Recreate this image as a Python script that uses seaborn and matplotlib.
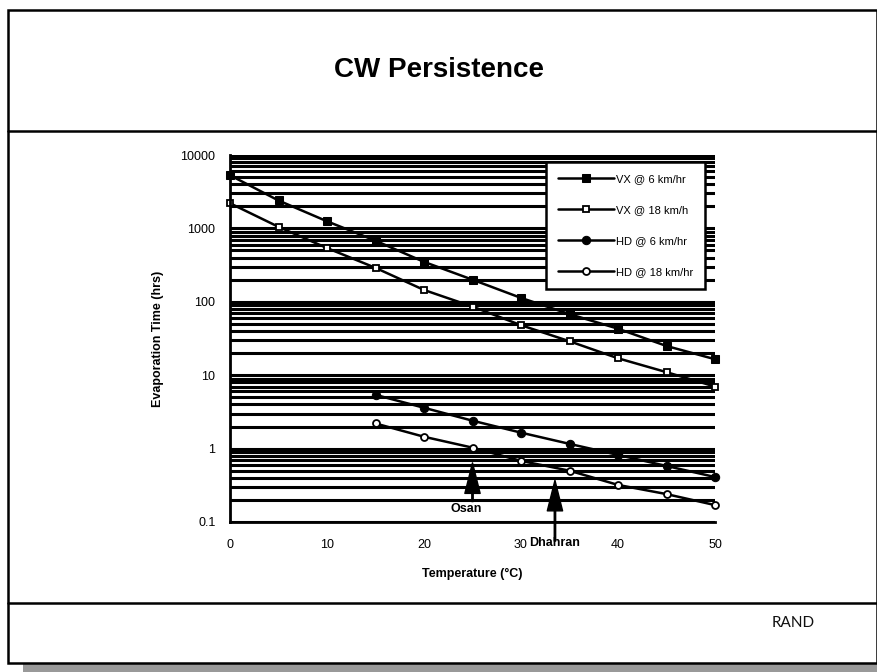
import matplotlib
matplotlib.use("Agg")
import matplotlib.pyplot as plt
import matplotlib.ticker as mticker
from matplotlib.patches import Rectangle
from matplotlib.lines import Line2D
import seaborn as sns

# ------------------------------------------------------------------
# Data
# ------------------------------------------------------------------
temp_vx = [0, 5, 10, 15, 20, 25, 30, 35, 40, 45, 50]
vx_6 = [5300, 2400, 1250, 680, 350, 200, 113, 68, 43, 25, 16.5]
vx_18 = [2200, 1050, 540, 290, 145, 86, 48, 29, 17, 11, 7]

temp_hd = [15, 20, 25, 30, 35, 40, 45, 50]
hd_6 = [5.4, 3.6, 2.4, 1.65, 1.16, 0.82, 0.58, 0.41]
hd_18 = [2.2, 1.45, 1.03, 0.68, 0.50, 0.32, 0.24, 0.17]

series_labels = ["VX @ 6 km/hr", "VX @ 18 km/h", "HD @ 6 km/hr", "HD @ 18 km/hr"]
sites = ["Osan", "Dhahran"]
site_temp = [25, 33.5]
site_tip = [0.64, 0.37]
site_tail = [0.19, 0.055]

sns.set_style("white")
plt.rcParams["font.family"] = ["Liberation Sans", "DejaVu Sans"]
plt.rcParams["text.color"] = "black"
plt.rcParams["axes.labelcolor"] = "black"

W, H = 878, 672
fig = plt.figure(figsize=(W / 100, H / 100), dpi=100)


def fx(px):
    return px / W


def fy(py):
    return 1 - py / H


# ------------------------------------------------------------------
# Slide frame
# ------------------------------------------------------------------
fig.add_artist(Rectangle((fx(23), fy(672)), fx(878) - fx(23), fy(663) - fy(672),
                         transform=fig.transFigure, facecolor="#999999", edgecolor="none"))
fig.add_artist(Rectangle((fx(8), fy(663)), fx(877) - fx(8), fy(10) - fy(663),
                         transform=fig.transFigure, facecolor="none", edgecolor="black", lw=1.8))
for yline in (131, 603):
    fig.add_artist(Line2D([fx(8), fx(877)], [fy(yline), fy(yline)],
                          transform=fig.transFigure, color="black", lw=1.8))

fig.text(fx(439), fy(70), "CW Persistence", ha="center", va="center",
         fontsize=20, fontweight="bold", color="black")
fig.text(fx(793), fy(623), "RAND", ha="center", va="center", fontsize=11,
         color="#111111", family=["Lato", "DejaVu Sans"])

# ------------------------------------------------------------------
# Chart
# ------------------------------------------------------------------
ax = fig.add_axes([fx(230), fy(522), fx(715) - fx(230), fy(155) - fy(522)])
ax.set_yscale("log")
ax.set_xlim(0, 50)
ax.set_ylim(0.1, 10000)

ax.yaxis.set_major_locator(mticker.LogLocator(base=10, numticks=10))
ax.yaxis.set_minor_locator(mticker.LogLocator(base=10, subs=range(2, 10), numticks=100))
ax.yaxis.set_major_formatter(mticker.FuncFormatter(lambda v, p: f"{v:g}"))
ax.yaxis.set_minor_formatter(mticker.NullFormatter())
ax.set_xticks([0, 10, 20, 30, 40, 50])
ax.grid(True, which="both", axis="y", color="black", lw=2.2)
ax.grid(False, axis="x")
ax.set_axisbelow(True)

common = dict(color="black", lw=1.8, clip_on=False, zorder=3)
sns.lineplot(x=temp_vx, y=vx_6, ax=ax, marker="s", markersize=6,
             markerfacecolor="black", markeredgecolor="black", label=series_labels[0], **common)
sns.lineplot(x=temp_vx, y=vx_18, ax=ax, marker="s", markersize=5,
             markerfacecolor="white", markeredgecolor="black", markeredgewidth=1.3,
             label=series_labels[1], **common)
sns.lineplot(x=temp_hd, y=hd_6, ax=ax, marker="o", markersize=6,
             markerfacecolor="black", markeredgecolor="black", label=series_labels[2], **common)
sns.lineplot(x=temp_hd, y=hd_18, ax=ax, marker="o", markersize=5,
             markerfacecolor="white", markeredgecolor="black", markeredgewidth=1.3,
             label=series_labels[3], **common)

for spine in ("top", "right"):
    ax.spines[spine].set_visible(False)
for spine in ("left", "bottom"):
    ax.spines[spine].set_linewidth(2)
    ax.spines[spine].set_color("black")
    ax.spines[spine].set_zorder(4)

ax.tick_params(axis="both", which="major", direction="inout", length=9, width=2,
               labelsize=9, color="black", labelcolor="black")
ax.tick_params(axis="y", which="minor", length=0)
ax.tick_params(axis="x", pad=8)
ax.tick_params(axis="y", pad=6)

ax.set_xlabel("Temperature (\u00b0C)", fontsize=9, fontweight="bold", labelpad=12)
ax.set_ylabel("Evaporation Time (hrs)", fontsize=9, fontweight="bold", labelpad=12)

leg = ax.legend(loc="upper right", bbox_to_anchor=(0.98, 0.982), frameon=True,
                fancybox=False, framealpha=1, edgecolor="black", fontsize=8,
                handlelength=5, handletextpad=0.2, labelspacing=1.9,
                borderpad=1.1, borderaxespad=0)
leg.get_frame().set_linewidth(1.8)
leg.set_zorder(5)
for txt in leg.get_texts():
    txt.set_color("black")

for name, t, tip, tail in zip(sites, site_temp, site_tip, site_tail):
    ax.annotate("", xy=(t, tip), xytext=(t, tail), annotation_clip=False,
                arrowprops=dict(facecolor="black", edgecolor="black", width=1,
                                headwidth=11, headlength=22, shrink=0), zorder=6)

ax.text(24.3, 0.15, sites[0], ha="center", va="center", fontsize=9,
        fontweight="bold", zorder=7, clip_on=False)
ax.text(33.5, 0.052, sites[1], ha="center", va="center", fontsize=9,
        fontweight="bold", zorder=7, clip_on=False)

fig.savefig("out.png", dpi=100)
